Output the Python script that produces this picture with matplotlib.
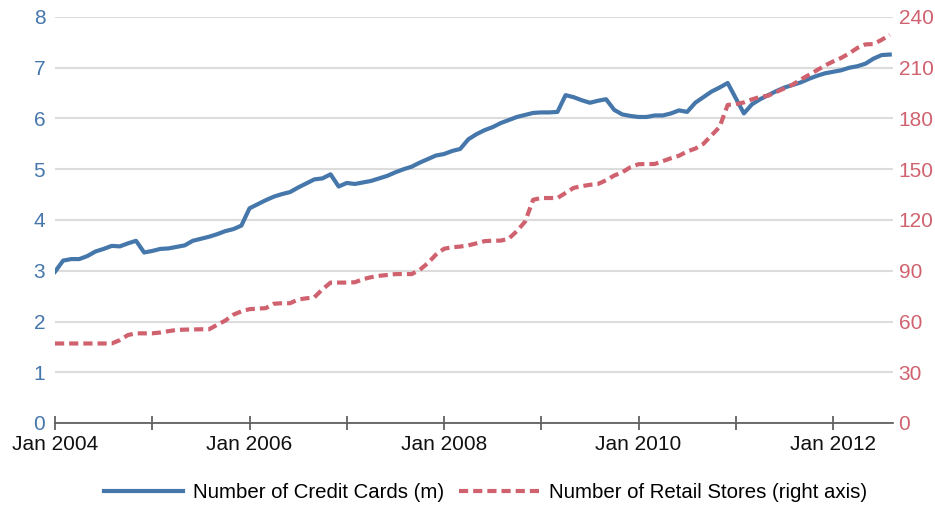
import matplotlib
matplotlib.use("Agg")
import matplotlib.pyplot as plt

plt.rcParams['font.family'] = ['Liberation Sans', 'DejaVu Sans']

# Monthly data, Jan 2004 .. Aug 2012
credit_cards = [
    2.98, 3.20, 3.23, 3.23, 3.29, 3.38, 3.43, 3.49, 3.48, 3.54, 3.59, 3.36,   # 2004
    3.39, 3.43, 3.44, 3.47, 3.50, 3.59, 3.63, 3.67, 3.72, 3.78, 3.82, 3.89,   # 2005
    4.23, 4.31, 4.39, 4.46, 4.51, 4.55, 4.64, 4.72, 4.80, 4.82, 4.90, 4.66,   # 2006
    4.73, 4.71, 4.74, 4.77, 4.82, 4.87, 4.94, 5.00, 5.05, 5.13, 5.20, 5.27,   # 2007
    5.30, 5.36, 5.40, 5.59, 5.69, 5.77, 5.83, 5.91, 5.97, 6.03, 6.07, 6.11,   # 2008
    6.12, 6.12, 6.13, 6.46, 6.42, 6.36, 6.31, 6.35, 6.38, 6.17, 6.08, 6.05,   # 2009
    6.03, 6.03, 6.06, 6.06, 6.10, 6.16, 6.13, 6.31, 6.42, 6.53, 6.61, 6.70,   # 2010
    6.40, 6.10, 6.28, 6.38, 6.46, 6.54, 6.61, 6.66, 6.71, 6.78, 6.84, 6.89,   # 2011
    6.92, 6.95, 7.00, 7.03, 7.08, 7.18, 7.25, 7.26,                           # 2012
]
retail_stores = [
    47, 47, 47, 47, 47, 47, 47, 47, 49, 52, 53, 53,                           # 2004
    53, 53.5, 54.3, 55, 55.2, 55.3, 55.4, 55.4, 58, 60.5, 64, 66,             # 2005
    67.3, 67.6, 67.9, 70.5, 70.8, 70.8, 73, 73.7, 74.3, 79, 83, 83,           # 2006
    83, 83.2, 85, 86.2, 87, 87.5, 88, 88.1, 88, 90.5, 94.5, 99.5,             # 2007
    103, 103.9, 104.3, 105, 106.2, 107.5, 107.8, 107.8, 109, 113.5, 119, 132, # 2008
    133, 133, 133, 136, 139, 140, 140.8, 141.3, 143.5, 146.3, 148.2, 151.2,   # 2009
    153, 153.1, 153.1, 154.8, 156.5, 158, 160.5, 162.2, 165, 170, 175, 188,   # 2010
    188.5, 189.5, 191.3, 192.8, 193.5, 195.7, 197.8, 200, 203, 205.7, 208.5, 211.3,  # 2011
    213.7, 215.8, 218.5, 221.7, 223.8, 224, 226.5, 229.5,                     # 2012
]
year_ticks = [0, 12, 24, 36, 48, 60, 72, 84, 96]
year_labels = ["Jan 2004", "", "Jan 2006", "", "Jan 2008", "", "Jan 2010", "", "Jan 2012"]
left_ticks = [0, 1, 2, 3, 4, 5, 6, 7, 8]
right_ticks = [0, 30, 60, 90, 120, 150, 180, 210, 240]
label_cards = "Number of Credit Cards (m)"
label_stores = "Number of Retail Stores (right axis)"

BLUE = "#4677ab"
RED = "#d0626f"

months = list(range(len(credit_cards)))

fig = plt.figure(figsize=(9.35, 5.08), dpi=100)
ax = fig.add_axes([55/935, 1-423/508, (893-55)/935, (423-17)/508])
ax2 = ax.twinx()

l1, = ax.plot(months, credit_cards, color=BLUE, lw=3.0, solid_joinstyle='round', zorder=3)
l2, = ax2.plot(list(range(len(retail_stores))), retail_stores, color=RED, lw=3.0,
               dashes=(2.2, 1.2), zorder=3)

ax.set_xlim(0, 103.4)
ax.set_ylim(0, 8)
ax2.set_ylim(0, 240)
ax.set_yticks(left_ticks)
ax2.set_yticks(right_ticks)
ax.set_xticks(year_ticks)
ax.set_xticklabels(year_labels)

ax.yaxis.grid(True, color="#dcdcdc", lw=1.5)
ax.set_axisbelow(True)

for a in (ax, ax2):
    for s in ("left", "right", "top"):
        a.spines[s].set_visible(False)
ax2.spines["bottom"].set_visible(False)
ax.spines["bottom"].set_color("#555555")
ax.spines["bottom"].set_linewidth(1.2)

ax.tick_params(axis='x', direction='inout', length=10, width=1.2, color="#555555",
               labelsize=15, labelcolor="#111111", pad=3.5)
ax.tick_params(axis='y', length=0, pad=7, labelsize=15, labelcolor=BLUE)
ax2.tick_params(axis='y', length=0, pad=4, labelsize=15, labelcolor=RED)

fig.legend([l1, l2], [label_cards, label_stores], loc='center',
           bbox_to_anchor=(0.519, 0.031), ncol=2, frameon=False, fontsize=14.7,
           handlelength=3.9, handletextpad=0.5, columnspacing=0.7)

fig.savefig("out.png", dpi=100)
